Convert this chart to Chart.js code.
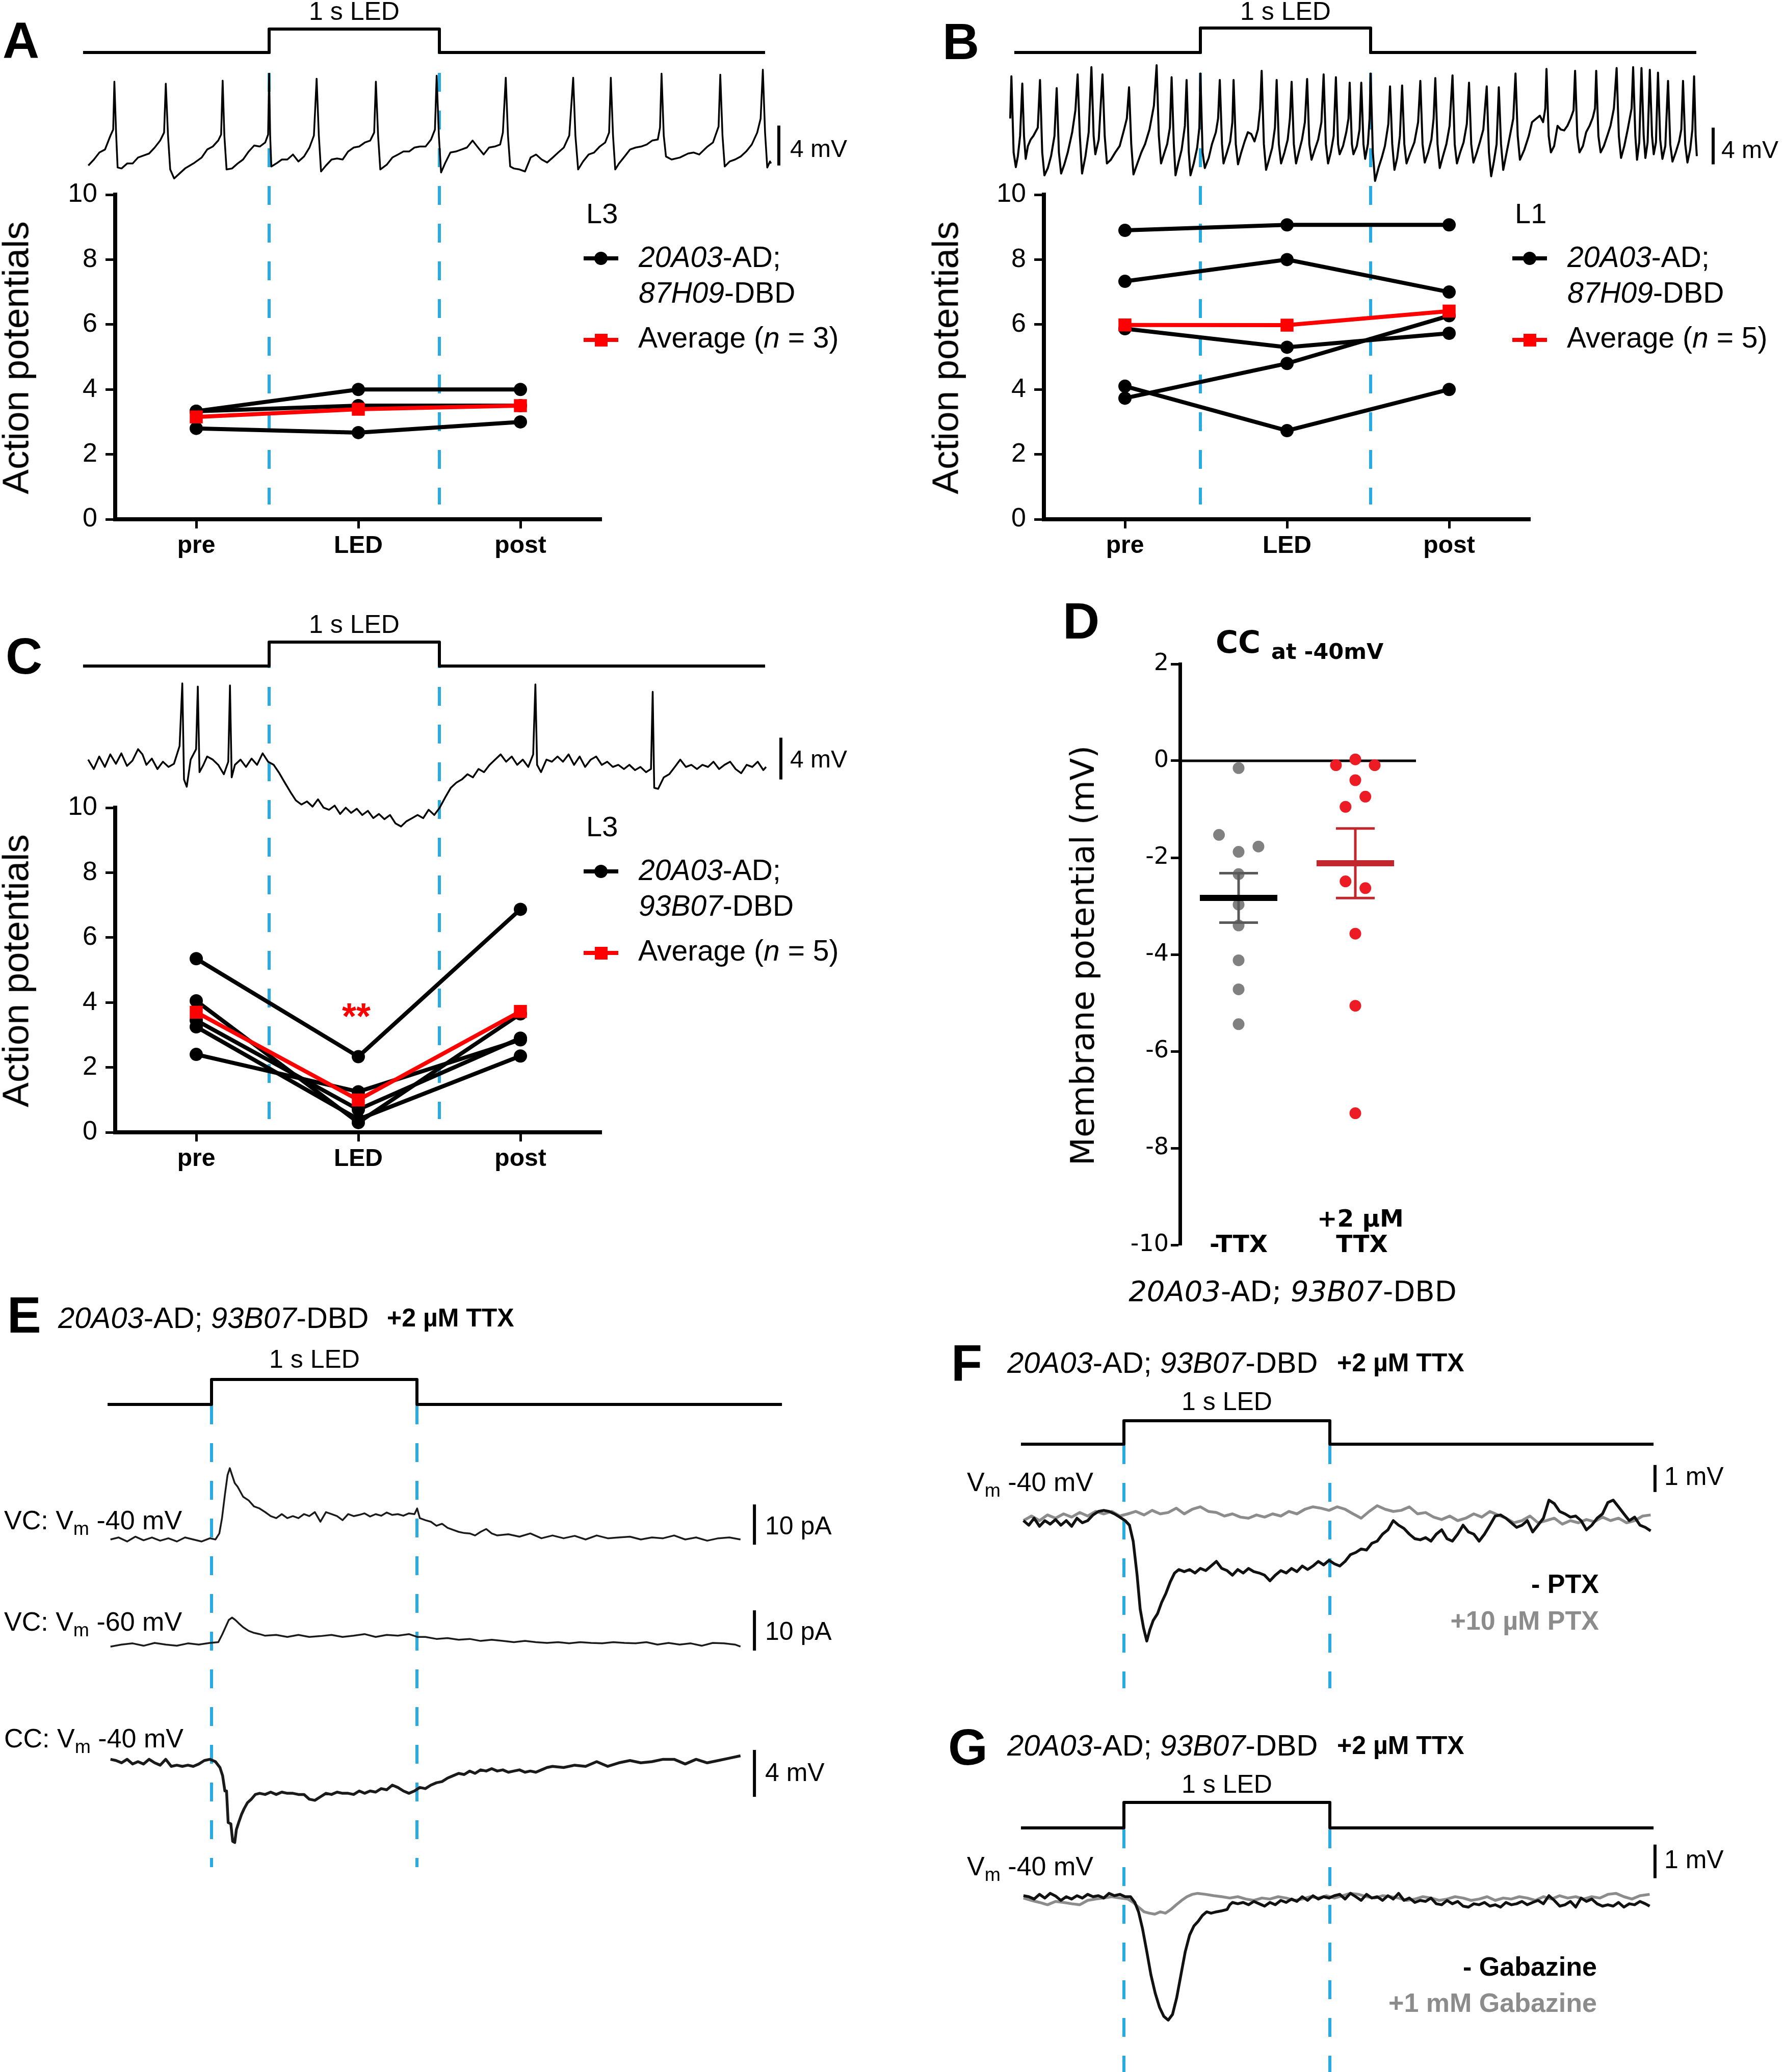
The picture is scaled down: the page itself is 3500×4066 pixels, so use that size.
<!DOCTYPE html>
<html>
<head>
<meta charset="utf-8">
<script src="https://cdn.jsdelivr.net/npm/chart.js@4.4.1/dist/chart.umd.min.js"></script>
<style>
html, body { margin: 0; padding: 0; background: #fff; overflow: hidden; }
#fig { position: relative; width: 3500px; height: 4066px; background: #fff; }
canvas { position: absolute; }
.t { position: absolute; line-height: 1; white-space: nowrap; color: #000;
     font-family: "Liberation Sans", Arial, Helvetica, sans-serif; }
.t sub { font-size: 0.72em; vertical-align: -0.3em; line-height: 0; }
.sym { position: absolute; }
</style>
</head>
<body>
<div id="fig"></div>
<script>
// ---------- data ----------
// LED pulse: on at 0 ms, off at 1000 ms
const ledOnMs = 0;
const ledOffMs = 1000;

// action potential counts (pre / LED / post), one row per cell
const apCategories = ['pre', 'LED', 'post'];
const apCellsA = [[3.33, 4.0, 4.0], [3.33, 3.5, 3.5], [2.8, 2.67, 3.0]];
const apCellsB = [[8.9, 9.07, 9.07], [7.33, 8.0, 7.0], [5.87, 5.3, 5.73], [4.1, 2.73, 4.0], [3.73, 4.8, 6.27]];
const apCellsC = [[5.35, 2.33, 6.87], [4.05, 0.3, 3.65], [3.45, 0.7, 2.9], [3.25, 0.4, 2.35], [2.4, 1.25, 2.85]];
const apTicks = [0, 2, 4, 6, 8, 10];

// panel D: membrane potential change (mV) at -40 mV
const ttxGroups = ['-TTX', '+2 µM TTX'];
const minusTTX = [-0.15, -1.53, -1.77, -1.88, -2.34, -2.97, -3.40, -4.12, -4.72, -5.44];
const minusTTXJitter = [0, -0.168, 0.17, 0, 0, 0, 0, 0, 0, 0];
const plusTTX = [-0.09, 0.03, -0.09, -0.40, -0.74, -0.95, -2.49, -2.63, -3.57, -5.06, -7.28];
const plusTTXJitter = [-0.166, 0, 0.166, 0, 0.086, -0.084, -0.084, 0.086, 0, 0, 0];

// LED command traces [ms, state]
const ledStepAB = [[-1093, 0], [0, 0], [0, 1], [1000, 1], [1000, 0], [2913, 0]];
const ledStepE = [[-506, 0], [0, 0], [0, 1], [1000, 1], [1000, 0], [2777, 0]];
const ledStepFG = [[-500, 0], [0, 0], [0, 1], [1000, 1], [1000, 0], [2572, 0]];

// membrane recordings [ms, mV] or [ms, pA]
const traceA = [[-1062,0.1],[-1029,0.7],[-997,1.4],[-964,1.7],[-932,3.1],[-916,3.7],[-909,8.5],[-899,3.4],[-890,-0.1],[-867,-0.2],[-834,0.3],[-802,0.3],[-770,0.9],[-737,1.1],[-705,1.3],[-672,1.9],[-640,2.6],[-617,3.4],[-607,8.3],[-594,3.1],[-581,-0.3],[-558,-1.2],[-526,-0.7],[-494,-0.2],[-445,0.3],[-396,0.9],[-364,1.7],[-331,2.0],[-299,2.6],[-282,3.2],[-273,8.6],[-263,3.1],[-250,-0.3],[-218,-0.2],[-185,0.3],[-153,0.7],[-120,1.5],[-88,2.1],[-55,2.0],[-23,2.4],[-6,3.2],[0,9.3],[6,3.1],[13,0],[42,0.3],[75,0.7],[107,0.7],[140,1.2],[172,0.5],[205,1.0],[237,1.9],[263,3.1],[279,8.8],[292,3.1],[305,-0.5],[334,0.1],[367,0.7],[399,0.8],[432,0.7],[464,1.5],[497,1.9],[529,2.0],[562,2.4],[594,2.6],[617,3.4],[627,8.5],[640,3.1],[653,-0.3],[692,0.2],[724,0.9],[757,1.2],[789,1.5],[822,1.5],[854,1.9],[886,2.0],[919,2.0],[951,2.7],[974,3.7],[984,9.1],[997,3.1],[1010,-0.6],[1033,0.3],[1065,1.4],[1097,1.5],[1130,1.7],[1162,1.9],[1195,2.6],[1227,1.9],[1260,1.2],[1292,1.9],[1325,2.0],[1357,2.2],[1373,3.4],[1390,8.9],[1403,3.1],[1416,0],[1438,-0.2],[1471,-0.3],[1503,-0.5],[1536,0.9],[1568,1.2],[1601,0.7],[1633,0.4],[1666,0.9],[1698,1.4],[1731,1.9],[1763,3.1],[1786,8.9],[1799,3.1],[1815,-0.3],[1844,0.5],[1877,1.2],[1909,1.4],[1942,2.0],[1974,2.4],[1997,3.4],[2007,8.9],[2020,3.1],[2033,-0.3],[2055,0.3],[2088,1.0],[2120,1.7],[2153,1.9],[2185,2.0],[2218,2.2],[2250,2.6],[2283,2.7],[2296,3.9],[2305,9.3],[2318,3.1],[2331,1.0],[2364,0.7],[2413,0.9],[2461,1.3],[2494,1.4],[2526,1.2],[2575,2.0],[2607,2.4],[2640,4.0],[2650,9.2],[2663,3.1],[2676,0],[2705,0.5],[2737,0.7],[2770,1.0],[2802,1.5],[2835,2.2],[2867,3.4],[2887,4.8],[2900,9.7],[2913,3.4],[2926,-0.1],[2942,0.5],[2948,0.3]];

const traceB = [[-1117,5.6],[-1110,10.2],[-1097,1.9],[-1084,0.3],[-1072,1.5],[-1059,3.7],[-1046,9.4],[-1036,3.7],[-1026,1.2],[-1013,2.6],[-997,3.3],[-981,3.7],[-955,4.6],[-942,9.8],[-929,1.9],[-916,-0.6],[-896,0.2],[-877,1.5],[-857,3.7],[-844,8.9],[-831,1.9],[-818,-0.4],[-799,0.6],[-779,1.9],[-753,4.1],[-734,6.5],[-721,10.4],[-708,3.7],[-695,-0.4],[-675,1.5],[-656,4.1],[-640,11.2],[-627,3.7],[-617,1.7],[-597,3.3],[-575,10.4],[-562,3.7],[-549,0.7],[-526,1.1],[-500,1.9],[-474,2.6],[-448,4.4],[-432,5.6],[-419,9.0],[-406,2.8],[-393,-0.5],[-370,0.7],[-347,1.9],[-325,2.8],[-299,4.4],[-273,7.0],[-257,11.4],[-244,3.7],[-231,0.7],[-211,1.9],[-195,2.8],[-179,4.6],[-169,10.1],[-156,2.8],[-146,-0.6],[-130,0.7],[-110,2.2],[-91,4.8],[-81,9.8],[-68,1.9],[-58,-0.6],[-39,0.7],[-19,2.4],[-6,4.6],[0,10.5],[13,1.9],[26,0.2],[49,1.3],[68,2.8],[91,4.1],[104,5.6],[114,9.8],[127,2.8],[136,0.7],[156,1.9],[175,3.1],[188,5.2],[195,9.8],[208,2.8],[221,0.6],[240,1.9],[260,3.1],[279,4.1],[299,3.9],[318,3.1],[338,4.4],[351,6.7],[360,10.8],[373,2.8],[386,0],[403,1.1],[422,2.4],[438,4.6],[448,9.8],[461,2.8],[474,0.7],[494,1.9],[513,3.3],[526,5.6],[536,9.6],[549,2.8],[562,0.7],[578,1.9],[597,3.3],[614,5.2],[627,9.9],[640,2.8],[653,1.1],[672,2.2],[692,3.3],[711,5.2],[724,10.4],[737,2.8],[750,0.7],[766,1.9],[783,3.7],[796,10.1],[809,2.8],[818,1.7],[838,2.6],[857,4.1],[870,5.6],[877,9.5],[890,2.8],[899,1.7],[919,2.6],[935,4.4],[945,9.5],[958,2.8],[968,1.2],[984,2.8],[994,5.6],[1000,10.5],[1013,1.9],[1026,-1.2],[1046,0.2],[1065,1.3],[1084,2.6],[1104,5.0],[1114,9.1],[1127,2.8],[1140,0],[1156,1.3],[1172,3.7],[1185,9.2],[1198,2.8],[1211,0.7],[1234,1.9],[1257,3.0],[1279,5.2],[1292,9.7],[1305,2.8],[1318,0.8],[1338,1.9],[1357,3.3],[1370,5.6],[1380,10.0],[1393,2.8],[1406,0.2],[1425,1.5],[1445,2.8],[1464,4.8],[1481,10.3],[1494,2.8],[1507,0.7],[1526,1.9],[1546,3.0],[1565,5.0],[1578,9.5],[1591,2.8],[1604,0.8],[1624,1.9],[1643,3.1],[1662,4.4],[1682,9.1],[1695,1.9],[1708,-0.7],[1724,0.9],[1740,2.8],[1753,9.0],[1766,2.8],[1779,0],[1799,1.9],[1818,3.7],[1838,5.6],[1851,10.5],[1864,3.7],[1877,1.1],[1903,2.2],[1929,3.7],[1948,5.2],[1974,5.6],[1994,5.9],[2013,5.2],[2026,6.7],[2033,11.0],[2046,3.7],[2059,1.9],[2078,2.6],[2098,4.8],[2117,4.4],[2137,4.3],[2156,4.8],[2175,5.6],[2192,6.5],[2201,10.8],[2214,3.7],[2227,1.9],[2247,2.6],[2266,4.1],[2286,4.8],[2305,5.7],[2318,6.7],[2325,10.8],[2338,3.7],[2351,1.9],[2370,2.6],[2390,3.7],[2409,4.8],[2429,6.7],[2445,11.1],[2458,3.7],[2471,1.3],[2490,2.6],[2510,4.4],[2533,6.7],[2542,11.2],[2555,3.7],[2565,1.1],[2578,3.0],[2591,11.1],[2604,3.7],[2614,1.3],[2627,3.0],[2640,10.9],[2653,3.7],[2663,1.7],[2676,3.0],[2688,10.6],[2701,3.3],[2714,1.2],[2731,2.6],[2747,9.7],[2760,2.8],[2773,0.9],[2792,1.9],[2812,3.1],[2825,4.4],[2835,9.7],[2848,2.8],[2861,0.8],[2877,2.2],[2890,4.4],[2900,10.2],[2909,3.7],[2916,1.5]];

const traceC = [[-1063,0.7],[-1030,-0.2],[-998,1.0],[-965,0],[-933,1.2],[-900,0.3],[-868,1.3],[-835,0.1],[-803,0.6],[-770,1.7],[-744,1.2],[-721,0.2],[-689,0.8],[-656,-0.2],[-624,0.5],[-591,0],[-559,0.3],[-526,2.0],[-510,8.0],[-500,-1.2],[-484,-1.9],[-461,0.7],[-429,1.7],[-419,7.7],[-409,-0.5],[-386,0.2],[-364,1.0],[-331,0.7],[-299,0.2],[-266,-0.7],[-240,0.5],[-230,7.8],[-220,-1.0],[-201,0.2],[-168,0.7],[-136,0],[-103,0.8],[-71,0.2],[-38,1.3],[-6,0.5],[27,0.2],[60,-0.6],[92,-1.5],[125,-2.4],[157,-3.2],[190,-3.6],[222,-3.3],[255,-3.8],[287,-3.1],[320,-3.9],[352,-4.1],[385,-3.7],[417,-4.5],[450,-3.9],[482,-4.4],[515,-4.0],[547,-4.6],[580,-4.2],[612,-4.9],[645,-4.5],[677,-5.0],[710,-4.6],[742,-5.4],[775,-5.7],[807,-5.2],[840,-4.9],[872,-4.6],[905,-4.9],[937,-4.1],[970,-4.6],[1002,-3.9],[1035,-2.9],[1067,-2.0],[1100,-1.5],[1132,-1.2],[1165,-0.7],[1197,-1.0],[1230,-0.2],[1262,-0.5],[1295,0.2],[1327,0.7],[1360,1.2],[1392,0.5],[1425,1.0],[1457,0.2],[1490,0.7],[1522,0],[1551,1.2],[1564,7.9],[1574,0.2],[1597,-0.5],[1629,0.7],[1661,0.5],[1694,1.0],[1726,0.5],[1759,1.2],[1791,0.2],[1824,1.0],[1856,0],[1889,0.7],[1921,1.0],[1954,0.2],[1986,0.5],[2019,0],[2051,0.2],[2084,-0.2],[2116,0.2],[2149,-0.3],[2181,0],[2214,-0.5],[2243,-0.2],[2253,7.2],[2262,-2.0],[2285,-2.1],[2318,-1.0],[2350,-0.7],[2383,0],[2415,0.7],[2448,0],[2480,0.2],[2513,-0.2],[2545,0.2],[2578,0],[2610,0.5],[2643,-0.2],[2675,0.2],[2708,0.5],[2740,-0.2],[2773,-0.6],[2805,0.2],[2838,0],[2870,0.5],[2903,-0.3],[2919,0]];

const traceEvc40 = [[-492,0],[-452,0.5],[-411,-0.5],[-371,0.7],[-331,-0.2],[-290,0.5],[-250,-0.3],[-210,0.3],[-169,-0.5],[-129,0.5],[-89,0],[-48,-0.5],[-8,0.3],[19,0],[38,1.5],[51,5.3],[65,11.1],[78,16.0],[89,17.7],[100,16.0],[113,14.0],[127,13.1],[154,10.6],[181,9.7],[207,8.2],[234,7.7],[261,6.8],[288,5.8],[315,5.3],[342,6.3],[369,5.3],[396,5.8],[423,5.3],[450,6.3],[476,5.8],[503,6.8],[530,4.4],[557,6.8],[584,6.3],[611,5.8],[638,4.8],[665,6.3],[692,5.8],[719,6.1],[745,6.5],[772,5.7],[799,6.3],[826,5.9],[853,6.7],[880,6.1],[907,6.3],[934,5.9],[961,6.5],[988,6.3],[1001,7.7],[1014,5.3],[1041,4.8],[1068,4.4],[1095,3.4],[1122,3.9],[1149,2.9],[1176,2.4],[1203,1.9],[1230,1.6],[1257,1.5],[1283,1.0],[1310,1.9],[1337,2.6],[1364,1.5],[1391,1.0],[1445,1.3],[1499,0.7],[1552,1.5],[1606,0.3],[1660,1.0],[1714,0.3],[1768,0.9],[1821,0],[1875,1.0],[1929,0.3],[1983,0.5],[2037,0.7],[2090,0],[2144,0.5],[2198,0.3],[2252,1.0],[2306,0],[2359,0.5],[2413,-0.3],[2467,0.3],[2521,0.5],[2575,0]];

const traceEvc60 = [[-492,-0.4],[-438,0.1],[-384,0.4],[-331,-0.2],[-277,0.5],[-223,0.1],[-169,-0.2],[-115,0.4],[-62,0.1],[-8,0.5],[33,0.7],[51,2.5],[68,4.4],[84,6.2],[100,6.8],[116,6.2],[132,5.4],[154,4.4],[181,3.5],[207,3.0],[234,2.7],[261,2.3],[315,2.5],[369,2.0],[423,2.5],[476,2.0],[530,2.2],[584,2.5],[638,2.0],[692,2.3],[745,2.7],[799,2.0],[853,2.5],[907,2.3],[961,2.7],[1001,2.0],[1041,2.0],[1095,1.5],[1149,1.7],[1203,1.3],[1257,1.5],[1310,1.0],[1364,1.3],[1418,1.0],[1472,0.7],[1526,1.0],[1579,0.7],[1633,0.5],[1687,0.7],[1741,0.4],[1795,0.7],[1848,0.5],[1902,0.4],[1956,0.7],[2010,0.5],[2064,0.4],[2117,0.7],[2171,0.1],[2225,0.5],[2279,0.1],[2333,0.4],[2386,-0.2],[2440,0.5],[2494,0.4],[2548,0.1],[2575,-0.4]];

const traceEcc40 = [[-492,0.2],[-465,0.1],[-438,-0.1],[-411,0.2],[-384,-0.2],[-358,0],[-331,-0.2],[-304,0.2],[-277,-0.1],[-250,-0.3],[-223,0.2],[-196,-0.4],[-169,-0.3],[-142,-0.4],[-115,-0.3],[-89,-0.4],[-62,-0.2],[-35,0.1],[-8,0.2],[19,0],[41,-0.5],[54,-1.2],[65,-2.5],[73,-2.5],[81,-5.2],[94,-5.3],[103,-6.8],[113,-6.9],[121,-5.8],[132,-5.2],[146,-4.5],[159,-4.0],[175,-3.5],[194,-3.2],[213,-2.8],[234,-2.7],[261,-2.8],[288,-2.6],[315,-2.8],[342,-2.6],[369,-2.7],[396,-2.7],[423,-2.8],[450,-2.8],[476,-3.2],[503,-3.3],[530,-3.0],[557,-2.7],[584,-2.8],[611,-2.6],[638,-2.7],[665,-2.7],[692,-2.8],[719,-2.5],[745,-2.7],[772,-2.5],[799,-2.6],[826,-2.3],[853,-2.4],[880,-2.0],[907,-2.2],[934,-2.5],[961,-2.7],[988,-2.5],[1014,-2.2],[1041,-2.3],[1068,-2.0],[1095,-1.8],[1122,-1.7],[1149,-1.4],[1176,-1.2],[1203,-1.0],[1230,-1.1],[1257,-0.8],[1283,-1.0],[1310,-0.7],[1337,-0.8],[1364,-0.6],[1391,-0.8],[1418,-0.7],[1445,-0.9],[1472,-0.8],[1499,-0.7],[1526,-0.9],[1552,-0.8],[1579,-0.9],[1606,-0.7],[1633,-0.5],[1660,-0.4],[1714,-0.5],[1768,-0.3],[1821,-0.4],[1875,0],[1929,-0.4],[1983,-0.1],[2037,0.1],[2090,-0.1],[2144,0],[2198,0.2],[2252,0.2],[2306,-0.2],[2359,0.2],[2413,-0.1],[2467,0.1],[2521,0.3],[2575,0.5]];

const traceFcontrol = [[-488,0],[-462,-0.17],[-436,0.09],[-410,-0.21],[-384,0],[-358,-0.13],[-332,0.04],[-306,-0.17],[-280,0],[-254,-0.21],[-228,0.09],[-202,-0.08],[-176,0],[-150,0.21],[-124,0.34],[-98,0.38],[-72,0.34],[-46,0.25],[-20,0.13],[6,0],[27,-0.17],[45,-0.76],[64,-2.02],[79,-3.28],[95,-3.96],[111,-4.46],[126,-4.04],[142,-3.70],[163,-3.45],[183,-3.03],[204,-2.69],[225,-2.27],[246,-1.94],[267,-1.81],[293,-1.89],[319,-1.81],[345,-1.94],[371,-1.77],[397,-1.85],[423,-1.68],[449,-1.51],[475,-1.77],[501,-1.85],[527,-2.02],[553,-1.81],[579,-1.94],[605,-1.77],[631,-1.89],[657,-1.94],[683,-2.02],[709,-2.23],[735,-2.02],[762,-1.85],[788,-1.94],[814,-1.77],[840,-1.89],[866,-1.68],[892,-1.81],[918,-1.68],[944,-1.51],[970,-1.64],[996,-1.47],[1022,-1.60],[1048,-1.68],[1074,-1.51],[1100,-1.26],[1126,-1.18],[1152,-1.05],[1178,-1.09],[1204,-0.84],[1230,-0.76],[1256,-0.50],[1282,-0.34],[1308,0],[1334,-0.17],[1360,-0.29],[1386,-0.50],[1413,-0.67],[1439,-0.71],[1465,-0.63],[1491,-0.76],[1517,-0.50],[1543,-0.34],[1569,-0.67],[1595,-0.76],[1621,-0.50],[1647,-0.17],[1673,-0.42],[1699,-0.50],[1725,-0.76],[1751,-0.50],[1777,-0.17],[1803,0.17],[1829,0.21],[1855,0.09],[1881,-0.08],[1907,-0.25],[1933,-0.17],[1959,0],[1985,-0.42],[2011,-0.17],[2037,0.09],[2064,0.76],[2090,0.63],[2116,0.34],[2142,0.25],[2168,0.13],[2194,0.17],[2220,0],[2246,-0.34],[2272,-0.17],[2298,0.09],[2324,0.25],[2350,0.67],[2376,0.76],[2402,0.51],[2428,0.25],[2454,0],[2480,0.13],[2506,-0.17],[2532,-0.25],[2558,-0.38]];

const traceFptx = [[-488,0],[-449,0.17],[-410,0],[-371,0.21],[-332,0.09],[-293,0.25],[-254,0.13],[-215,0.30],[-176,0.17],[-137,0.34],[-98,0.25],[-59,0.34],[-20,0.17],[19,0.25],[58,0.34],[98,0.21],[137,0.38],[176,0.25],[215,0.30],[254,0.46],[293,0.25],[332,0.42],[371,0.51],[410,0.34],[449,0.30],[488,0.17],[527,0.25],[566,0.13],[605,0.09],[644,0.21],[683,0.13],[722,0.25],[762,0.17],[801,0.34],[840,0.25],[879,0.42],[918,0.51],[957,0.46],[996,0.38],[1035,0.51],[1074,0.42],[1113,0.25],[1152,0.09],[1191,0.34],[1230,0.55],[1269,0.42],[1308,0.34],[1347,0.38],[1386,0.51],[1426,0.25],[1465,0.30],[1504,0.13],[1543,0.04],[1582,0.17],[1621,0],[1660,0.09],[1699,0.25],[1738,0.13],[1777,0.34],[1816,0.21],[1855,0.09],[1894,-0.08],[1933,0],[1972,0.17],[2011,-0.08],[2051,0],[2090,0.09],[2129,-0.13],[2168,0],[2207,-0.08],[2246,0.04],[2285,-0.04],[2324,0.13],[2363,0],[2402,0.09],[2441,-0.08],[2480,0],[2519,0.17],[2558,0.21]];

const traceGcontrol = [[-488,0.03],[-462,0],[-436,-0.07],[-410,0.07],[-384,-0.04],[-358,0.10],[-332,0.02],[-306,-0.11],[-280,0],[-254,-0.07],[-228,0.03],[-202,-0.04],[-176,0.07],[-150,0],[-124,0.03],[-98,-0.04],[-72,0.10],[-46,0.03],[-20,0.07],[6,0],[32,0],[53,-0.17],[71,-0.45],[90,-0.94],[111,-1.63],[131,-2.32],[152,-2.87],[173,-3.29],[194,-3.56],[215,-3.67],[236,-3.50],[256,-3.01],[277,-2.32],[298,-1.63],[319,-1.14],[340,-0.87],[361,-0.73],[381,-0.56],[402,-0.45],[423,-0.49],[449,-0.45],[475,-0.42],[501,-0.38],[514,-0.24],[527,-0.17],[553,-0.21],[579,-0.17],[605,-0.24],[631,-0.14],[657,-0.21],[683,-0.28],[709,-0.17],[735,-0.24],[762,-0.11],[788,-0.17],[814,-0.07],[840,-0.14],[866,0],[892,-0.11],[918,0.03],[944,-0.07],[970,0],[996,-0.04],[1022,0.03],[1048,0.07],[1074,-0.07],[1100,0.10],[1126,0],[1152,-0.11],[1178,0.07],[1204,-0.04],[1230,0],[1256,-0.11],[1282,0.03],[1308,-0.07],[1334,0.10],[1360,-0.11],[1386,-0.04],[1413,-0.17],[1439,-0.11],[1465,-0.14],[1491,-0.04],[1517,-0.21],[1543,-0.24],[1569,-0.11],[1595,-0.21],[1621,-0.14],[1647,-0.28],[1673,-0.31],[1699,-0.21],[1725,-0.24],[1751,-0.17],[1777,-0.28],[1803,-0.24],[1829,-0.31],[1855,-0.17],[1881,-0.24],[1907,-0.21],[1933,-0.14],[1959,-0.24],[1985,-0.17],[2011,-0.11],[2037,-0.21],[2064,0.03],[2090,-0.11],[2116,-0.28],[2142,-0.24],[2168,-0.14],[2194,-0.31],[2220,-0.04],[2246,-0.14],[2272,-0.07],[2298,-0.21],[2324,-0.28],[2350,-0.24],[2376,-0.28],[2402,-0.17],[2428,-0.31],[2454,-0.21],[2480,-0.24],[2506,-0.14],[2532,-0.21],[2553,-0.28]];

const traceGgabazine = [[-488,-0.04],[-449,-0.11],[-410,-0.17],[-371,-0.24],[-332,-0.14],[-293,-0.17],[-254,-0.21],[-215,-0.24],[-176,-0.11],[-137,-0.07],[-98,-0.04],[-59,0],[-20,-0.04],[19,-0.07],[45,-0.17],[71,-0.31],[98,-0.45],[124,-0.49],[150,-0.52],[176,-0.45],[202,-0.49],[228,-0.38],[254,-0.24],[280,-0.11],[306,0],[332,0.07],[358,0.10],[397,0.07],[436,0.03],[475,0],[514,-0.04],[553,0],[592,-0.07],[631,-0.11],[670,-0.04],[709,-0.07],[749,0],[788,-0.04],[827,-0.11],[866,-0.07],[905,0],[944,-0.04],[983,0.03],[1022,-0.04],[1061,0.03],[1100,0.10],[1139,0.07],[1178,0],[1217,-0.04],[1256,0.03],[1295,0],[1334,-0.04],[1373,-0.11],[1413,-0.07],[1452,0],[1491,-0.04],[1530,-0.11],[1569,-0.07],[1608,0],[1647,-0.04],[1686,-0.11],[1725,-0.07],[1764,0],[1803,-0.11],[1842,-0.04],[1881,-0.07],[1920,0],[1959,-0.04],[1998,-0.11],[2037,0],[2077,-0.07],[2116,0.03],[2155,-0.04],[2194,0],[2233,-0.07],[2272,0],[2311,-0.04],[2350,0.07],[2389,0.10],[2428,0],[2467,-0.07],[2506,0.03],[2553,0.07]];

// scale bars [ms, value]: 4 mV (A-C, E-CC), 10 pA (E-VC), 1 mV (F, G)
const scaleBarA = [[2994, 0.1], [2994, 4.1]];
const scaleBarB = [[3012, 0.6], [3012, 4.6]];
const scaleBarC = [[3006, -1.2], [3006, 2.8]];
const scaleBarEvc40 = [[2643, -1.3], [2643, 8.7]];
const scaleBarEvc60 = [[2643, -1.4], [2643, 8.6]];
const scaleBarEcc = [[2643, -3.0], [2643, 1.0]];
const scaleBarF = [[2579, 1.06], [2579, 2.06]];
const scaleBarG = [[2579, 0.55], [2579, 1.55]];

// ---------- helpers ----------
const ARIAL = '"Liberation Sans", Arial, Helvetica, sans-serif';
const WIDE = '"DejaVu Sans", Verdana, sans-serif';
const BLUE = '#29abe2';
const GRAY_TXT = '#8c8c8c';
const fig = document.getElementById('fig');

function makeCanvas(box) {
    const c = document.createElement('canvas');
    c.width = box.width;
    c.height = box.height;
    c.style.left = box.left + 'px';
    c.style.top = box.top + 'px';
    c.style.width = box.width + 'px';
    c.style.height = box.height + 'px';
    fig.appendChild(c);
    return c;
}

function label(html, x, y, size, o = {}) {
    const d = document.createElement('div');
    d.className = 't';
    d.innerHTML = html;
    d.style.left = x + 'px';
    d.style.top = y + 'px';
    d.style.fontSize = size + 'px';
    if (o.bold) d.style.fontWeight = 'bold';
    if (o.family) d.style.fontFamily = o.family;
    if (o.color) d.style.color = o.color;
    const ax = { left: '0', center: '-50%', right: '-100%' }[o.anchor || 'left'];
    d.style.transform = 'translate(' + ax + ', -50%)' + (o.rotate ? ' rotate(-90deg)' : '');
    fig.appendChild(d);
}

function legendSymbol(x0, x1, y, color, square) {
    const line = document.createElement('div');
    line.className = 'sym';
    Object.assign(line.style, { left: x0 + 'px', top: (y - 4) + 'px', width: (x1 - x0) + 'px', height: '8px', background: color });
    fig.appendChild(line);
    const m = document.createElement('div');
    const s = square ? 25 : 26;
    m.className = 'sym';
    Object.assign(m.style, { left: ((x0 + x1) / 2 - s / 2) + 'px', top: (y - s / 2) + 'px', width: s + 'px', height: s + 'px', background: color, borderRadius: square ? '0' : '50%' });
    fig.appendChild(m);
}

const baseOptions = {
    responsive: false,
    animation: false,
    devicePixelRatio: 1,
    events: [],
    plugins: { legend: { display: false }, tooltip: { enabled: false } }
};

// one canvas, shared time axis, several hidden value axes placed by pixel geometry
function traceChart(box, ledOnPx, pxPerMs, axes, sets) {
    const scales = {
        x: { type: 'linear', display: false, min: (box.left - ledOnPx) / pxPerMs, max: (box.left + box.width - ledOnPx) / pxPerMs }
    };
    for (const [id, a] of Object.entries(axes)) {
        scales[id] = { type: 'linear', display: false, min: (a.zero - (box.top + box.height)) / a.px, max: (a.zero - box.top) / a.px };
    }
    new Chart(makeCanvas(box), {
        type: 'line',
        data: {
            datasets: sets.map(s => ({
                data: s.data, yAxisID: s.axis, borderColor: s.color || '#000', borderWidth: s.width || 4,
                borderDash: s.dash || [], pointRadius: 0, fill: false, tension: 0, order: s.order || 0,
                borderCapStyle: 'butt', borderJoinStyle: 'round'
            }))
        },
        options: { ...baseOptions, layout: { padding: 0 }, scales }
    });
}

// blue dashed markers at LED on / off
function ledMarkers(left, width, top, bottom, ledOnPx, pxPerMs) {
    const on = [[ledOnMs, 1], [ledOnMs, 0]];
    const off = [[ledOffMs, 1], [ledOffMs, 0]];
    traceChart({ left, top, width, height: bottom - top }, ledOnPx, pxPerMs,
        { y: { zero: bottom, px: bottom - top } },
        [{ data: on, axis: 'y', color: BLUE, width: 6, dash: [37, 37] },
         { data: off, axis: 'y', color: BLUE, width: 6, dash: [37, 37] }]);
}

function apChart(box, area, cells) {
    const avg = apCategories.map((_, i) => cells.reduce((s, r) => s + r[i], 0) / cells.length);
    const datasets = cells.map(r => ({
        data: r, borderColor: '#000', borderWidth: 8, pointRadius: 13, pointBorderWidth: 0,
        pointBackgroundColor: '#000', order: 1
    }));
    datasets.push({
        data: avg, borderColor: '#ff0000', borderWidth: 8, pointStyle: 'rect', pointRadius: 18,
        pointBorderWidth: 0, pointBackgroundColor: '#ff0000', order: 0
    });
    new Chart(makeCanvas(box), {
        type: 'line',
        data: { labels: apCategories, datasets },
        options: {
            ...baseOptions,
            layout: { padding: { top: area.top - box.top, right: box.left + box.width - area.right, left: 0, bottom: 0 } },
            scales: {
                x: {
                    type: 'category', offset: true,
                    grid: { offset: false, drawOnChartArea: false, tickLength: 18, tickWidth: 5, color: '#000' },
                    border: { width: 8, color: '#000' },
                    ticks: { font: { family: ARIAL, size: 48, weight: 'bold' }, color: '#000', padding: 6 },
                    afterFit: s => { s.height = box.top + box.height - area.bottom; }
                },
                y: {
                    min: 0, max: 10,
                    afterBuildTicks: s => { s.ticks = apTicks.map(v => ({ value: v })); },
                    grid: { drawOnChartArea: false, tickLength: 19, tickWidth: 5, color: '#000' },
                    border: { width: 8, color: '#000' },
                    ticks: { font: { family: ARIAL, size: 52 }, color: '#000', padding: 16 },
                    afterFit: s => { s.width = area.left - box.left; }
                }
            }
        }
    });
}

function apLegend(x, y, line1, line2, n, group) {
    label(group, x + 5, y, 56);
    legendSymbol(x, x + 68, y + 88, '#000', false);
    label(line1, x + 108, y + 85, 57);
    label(line2, x + 108, y + 155, 57);
    legendSymbol(x, x + 68, y + 248, '#ff0000', true);
    label('Average (<i>n</i> = ' + n + ')', x + 107, y + 243, 57);
}

// ---------- panel A ----------
ledMarkers(150, 1550, 69, 990, 528, 0.334);
traceChart({ left: 150, top: 0, width: 1550, height: 400 }, 528, 0.334,
    { led: { zero: 103, px: 46 }, mv: { zero: 326.7, px: 19.58 } },
    [{ data: ledStepAB, axis: 'led', width: 6 },
     { data: traceA, axis: 'mv', width: 3.5 },
     { data: scaleBarA, axis: 'mv', width: 6 }]);
apChart({ left: 0, top: 300, width: 1300, height: 850 }, { left: 226, right: 1180, top: 382, bottom: 1019 }, apCellsA);
label('A', 5, 79, 100, { bold: true });
label('1 s LED', 695, 22, 50, { anchor: 'center' });
label('4 mV', 1550, 292, 48);
label('Action potentials', 30, 702, 73, { anchor: 'center', rotate: true });
apLegend(1145, 419, '<i>20A03</i>-AD;', '<i>87H09</i>-DBD', 3, 'L3');

// ---------- panel B ----------
ledMarkers(1976, 1524, 69, 990, 2355, 0.334);
traceChart({ left: 1976, top: 0, width: 1524, height: 400 }, 2355, 0.334,
    { led: { zero: 103, px: 48 }, mv: { zero: 333.3, px: 18 } },
    [{ data: ledStepAB, axis: 'led', width: 6 },
     { data: traceB, axis: 'mv', width: 4 },
     { data: scaleBarB, axis: 'mv', width: 6 }]);
apChart({ left: 1822, top: 300, width: 1300, height: 850 }, { left: 2048, right: 3002, top: 382, bottom: 1019 }, apCellsB);
label('B', 1849, 81, 100, { bold: true });
label('1 s LED', 2522, 22, 50, { anchor: 'center' });
label('4 mV', 3377, 294, 48);
label('Action potentials', 1854, 702, 73, { anchor: 'center', rotate: true });
apLegend(2967, 419, '<i>20A03</i>-AD;', '<i>87H09</i>-DBD', 5, 'L1');

// ---------- panel C ----------
ledMarkers(150, 1550, 1274, 2196, 528, 0.334);
traceChart({ left: 150, top: 1180, width: 1550, height: 500 }, 528, 0.334,
    { led: { zero: 1307, px: 47 }, mv: { zero: 1505, px: 20.5 } },
    [{ data: ledStepAB, axis: 'led', width: 6 },
     { data: traceC, axis: 'mv', width: 3.5 },
     { data: scaleBarC, axis: 'mv', width: 6 }]);
apChart({ left: 0, top: 1503, width: 1300, height: 850 }, { left: 226, right: 1180, top: 1585, bottom: 2222 }, apCellsC);
label('C', 11, 1287, 100, { bold: true });
label('1 s LED', 695, 1225, 50, { anchor: 'center' });
label('4 mV', 1550, 1490, 48);
label('Action potentials', 30, 1905, 73, { anchor: 'center', rotate: true });
apLegend(1145, 1622, '<i>20A03</i>-AD;', '<i>93B07</i>-DBD', 5, 'L3');
label('**', 699, 1994, 72, { anchor: 'center', bold: true, color: '#ff0000' });

// ---------- panel D ----------
(function () {
    const box = { left: 2100, top: 1250, width: 800, height: 1250 };
    const area = { left: 2315, right: 2778, top: 1303, bottom: 2443 };
    const groupPx = [2430, 2659];
    const unit = groupPx[1] - groupPx[0];
    const xMin = 1 - (groupPx[0] - area.left) / unit;
    const xMax = 1 + (area.right - groupPx[0]) / unit;
    const meanHalf = 0.332, capHalf = 0.166;

    function meanSem(v) {
        const m = v.reduce((a, b) => a + b, 0) / v.length;
        const sd = Math.sqrt(v.reduce((a, b) => a + (b - m) ** 2, 0) / (v.length - 1));
        return [m, sd / Math.sqrt(v.length)];
    }
    function groupSets(values, jitter, x, dotColor, barColor, errColor) {
        const [m, s] = meanSem(values);
        return [
            { data: [[x - meanHalf, m], [x + meanHalf, m]], showLine: true, borderColor: barColor, borderWidth: 12, pointRadius: 0, order: 0, borderCapStyle: 'butt' },
            { data: [[x - capHalf, m + s], [x + capHalf, m + s], [x, null], [x, m + s], [x, m - s], [x, null], [x - capHalf, m - s], [x + capHalf, m - s]],
              showLine: true, spanGaps: false, borderColor: errColor, borderWidth: 5, pointRadius: 0, order: 1, borderCapStyle: 'butt' },
            { data: values.map((v, i) => [x + jitter[i], v]), showLine: false, pointRadius: 11.5, pointBorderWidth: 0,
              pointBackgroundColor: dotColor, order: 2 }
        ];
    }
    const datasets = [
        ...groupSets(minusTTX, minusTTXJitter, 1, '#808080', '#000000', '#595959'),
        ...groupSets(plusTTX, plusTTXJitter, 2, '#ed1c24', '#c1272d', '#c1272d'),
        { data: [[xMin, 0], [xMax, 0]], showLine: true, borderColor: '#000', borderWidth: 5, pointRadius: 0, order: 3 }
    ];
    new Chart(makeCanvas(box), {
        type: 'scatter',
        data: { datasets },
        options: {
            ...baseOptions,
            layout: { padding: { top: area.top - box.top, right: box.left + box.width - area.right, left: 0, bottom: box.top + box.height - area.bottom } },
            scales: {
                x: { type: 'linear', display: false, min: xMin, max: xMax },
                y: {
                    min: -10, max: 2,
                    ticks: { stepSize: 2, font: { family: WIDE, size: 46 }, color: '#000', padding: 4 },
                    grid: { drawOnChartArea: false, tickLength: 18, tickWidth: 5, color: '#000' },
                    border: { width: 7, color: '#000' },
                    afterFit: s => { s.width = area.left - box.left; }
                }
            }
        }
    });
    label('D', 2085, 1218, 100, { bold: true });
    label('CC', 2385, 1260, 60, { bold: true, family: WIDE });
    label('at -40mV', 2494, 1278, 43, { bold: true, family: WIDE });
    label('Membrane potential (mV)', 2124, 1875, 64, { anchor: 'center', rotate: true, family: WIDE });
    label(ttxGroups[0], groupPx[0], 2440, 47, { anchor: 'center', bold: true, family: WIDE });
    label('+2 µM', groupPx[1] + 10, 2390, 47, { anchor: 'center', bold: true, family: WIDE });
    label('TTX', groupPx[1] + 13, 2440, 47, { anchor: 'center', bold: true, family: WIDE });
    label('<i>20A03</i>-AD; <i>93B07</i>-DBD', 2536, 2534, 56, { anchor: 'center', family: WIDE });
})();

// ---------- panel E ----------
ledMarkers(150, 1400, 2758, 3664, 415, 0.403);
traceChart({ left: 150, top: 2680, width: 1400, height: 1000 }, 415, 0.403,
    { led: { zero: 2756, px: 49 }, i40: { zero: 3021, px: 7.9 }, i60: { zero: 3228, px: 7.9 }, v40: { zero: 3457, px: 23 } },
    [{ data: ledStepE, axis: 'led', width: 6 },
     { data: traceEvc40, axis: 'i40', width: 3.5, color: '#1a1a1a' },
     { data: traceEvc60, axis: 'i60', width: 3.5, color: '#1a1a1a' },
     { data: traceEcc40, axis: 'v40', width: 5.5, color: '#1a1a1a' },
     { data: scaleBarEvc40, axis: 'i40', width: 6 },
     { data: scaleBarEvc60, axis: 'i60', width: 6 },
     { data: scaleBarEcc, axis: 'v40', width: 6 }]);
label('E', 14, 2580, 100, { bold: true });
label('<i>20A03</i>-AD; <i>93B07</i>-DBD', 114, 2586, 58);
label('+2 µM TTX', 759, 2586, 50, { bold: true });
label('1 s LED', 617, 2667, 50, { anchor: 'center' });
label('VC: V<sub>m</sub> -40 mV', 8, 2983, 52);
label('VC: V<sub>m</sub> -60 mV', 8, 3182, 52);
label('CC: V<sub>m</sub> -40 mV', 8, 3411, 52);
label('10 pA', 1501, 2994, 50);
label('10 pA', 1501, 3201, 50);
label('4 mV', 1501, 3478, 50);

// ---------- panel F ----------
ledMarkers(1950, 1450, 2836, 3313, 2205, 0.404);
traceChart({ left: 1950, top: 2760, width: 1450, height: 560 }, 2205, 0.404,
    { led: { zero: 2834, px: 46 }, mv: { zero: 2984, px: 53 } },
    [{ data: ledStepFG, axis: 'led', width: 6 },
     { data: traceFptx, axis: 'mv', width: 5.5, color: '#8c8c8c', order: 1 },
     { data: traceFcontrol, axis: 'mv', width: 5.5, color: '#111' },
     { data: scaleBarF, axis: 'mv', width: 6 }]);
label('F', 1866, 2674, 100, { bold: true });
label('<i>20A03</i>-AD; <i>93B07</i>-DBD', 1976, 2674, 58);
label('+2 µM TTX', 2623, 2674, 50, { bold: true });
label('1 s LED', 2407, 2750, 50, { anchor: 'center' });
label('V<sub>m</sub> -40 mV', 1897, 2908, 52);
label('1 mV', 3265, 2897, 50);
label('- PTX', 3137, 3108, 52, { anchor: 'right', bold: true });
label('+10 µM PTX', 3137, 3180, 52, { anchor: 'right', bold: true, color: GRAY_TXT });

// ---------- panel G ----------
ledMarkers(1950, 1450, 3590, 4066, 2205, 0.404);
traceChart({ left: 1950, top: 3500, width: 1450, height: 566 }, 2205, 0.404,
    { led: { zero: 3587, px: 50 }, mv: { zero: 3722, px: 66 } },
    [{ data: ledStepFG, axis: 'led', width: 6 },
     { data: traceGgabazine, axis: 'mv', width: 5.5, color: '#8c8c8c', order: 1 },
     { data: traceGcontrol, axis: 'mv', width: 5.5, color: '#111' },
     { data: scaleBarG, axis: 'mv', width: 6 }]);
label('G', 1860, 3428, 100, { bold: true });
label('<i>20A03</i>-AD; <i>93B07</i>-DBD', 1976, 3425, 58);
label('+2 µM TTX', 2623, 3425, 50, { bold: true });
label('1 s LED', 2407, 3501, 50, { anchor: 'center' });
label('V<sub>m</sub> -40 mV', 1897, 3662, 52);
label('1 mV', 3265, 3649, 50);
label('- Gabazine', 3133, 3859, 52, { anchor: 'right', bold: true });
label('+1 mM Gabazine', 3133, 3930, 52, { anchor: 'right', bold: true, color: GRAY_TXT });
</script>
</body>
</html>
